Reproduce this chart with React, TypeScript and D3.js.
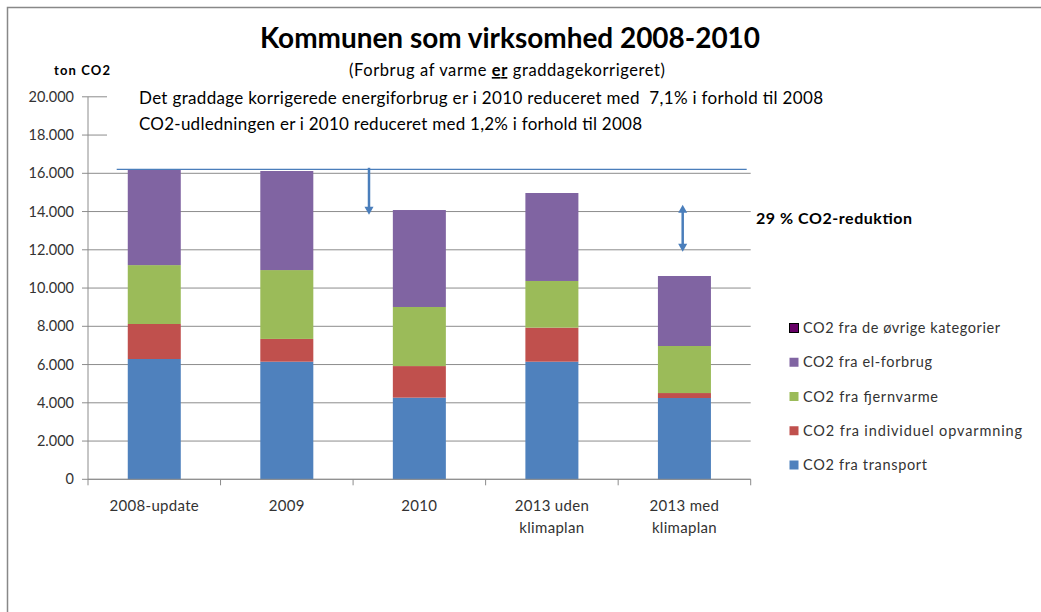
import React from "react";
import * as d3 from "d3";

const categories = ["2008-update", "2009", "2010", "2013 uden klimaplan", "2013 med klimaplan"];
const categoryLines = [["2008-update"], ["2009"], ["2010"], ["2013 uden", "klimaplan"], ["2013 med", "klimaplan"]];
const transport = [6290, 6150, 4270, 6150, 4250];
const individuel = [1830, 1190, 1650, 1780, 260];
const fjernvarme = [3080, 3600, 3090, 2440, 2460];
const elforbrug = [5010, 5180, 5070, 4600, 3660];
const ovrige = [0, 0, 0, 0, 0];
const yTicks = [0, 2000, 4000, 6000, 8000, 10000, 12000, 14000, 16000, 18000, 20000];

const seriesKeys = ["transport", "individuel", "fjernvarme", "elforbrug", "ovrige"];
const seriesNames: Record<string, string> = {
  transport: "CO2 fra transport",
  individuel: "CO2 fra individuel opvarmning",
  fjernvarme: "CO2 fra fjernvarme",
  elforbrug: "CO2 fra el-forbrug",
  ovrige: "CO2 fra de øvrige kategorier",
};
const seriesColors: Record<string, string> = {
  transport: "#4F81BD",
  individuel: "#C0504D",
  fjernvarme: "#9BBB59",
  elforbrug: "#8064A2",
  ovrige: "#660066",
};
const legendWidths: Record<string, number> = {
  ovrige: 197,
  elforbrug: 129,
  fjernvarme: 135,
  individuel: 219,
  transport: 124,
};

const FONT = "Lato, 'Open Sans', sans-serif";
const ARROW = "#4A7EBB";

export default function App() {
  const left = 88, right = 750.7, top = 96.8, bottom = 479.3;
  const x = d3.scaleBand<string>().domain(categories).range([left, right]).paddingInner(0.6).paddingOuter(0.3);
  const xTickScale = d3.scaleLinear().domain([0, categories.length]).range([left, right]);
  const y = d3.scaleLinear().domain([0, 20000]).range([bottom, top]);

  const rows = categories.map((c, i) => ({
    cat: c,
    transport: transport[i],
    individuel: individuel[i],
    fjernvarme: fjernvarme[i],
    elforbrug: elforbrug[i],
    ovrige: ovrige[i],
  }));
  const stacked = d3.stack<any>().keys(seriesKeys)(rows);
  const totals = rows.map((r) => seriesKeys.reduce((s, k) => s + (r as any)[k], 0));

  const fmt = (v: number) => (v === 0 ? "0" : d3.format(",")(v).replace(/,/g, "."));

  const lineY = y(totals[0]);
  const downX = 369;
  const downTip = y(13830);
  const dblX = 682.7;
  const dblTop = y(14350);
  const dblBot = y(11900);

  const legendOrder = ["ovrige", "elforbrug", "fjernvarme", "individuel", "transport"];
  const legendY = d3.scaleLinear().domain([0, 4]).range([328, 465]);

  return (
    <svg width={1041} height={612} style={{ position: "absolute", left: 0, top: 0, background: "#fff" }} fontFamily={FONT}>
      <rect x={0} y={0} width={1041} height={612} fill="#fff" />
      <rect x={7.5} y={7.5} width={1060} height={640} fill="none" stroke="#888" strokeWidth={1.5} />

      {/* gridlines */}
      {yTicks.map((t) => (
        <line key={t} x1={left - 6} x2={right} y1={y(t)} y2={y(t)} stroke="#8c8c8c" strokeWidth={1} />
      ))}

      {/* white text box covering the top gridlines */}
      <rect x={107} y={86} width={660} height={62} fill="#fff" />

      {/* bars */}
      {stacked.map((s) => (
        <g key={s.key} fill={seriesColors[s.key]}>
          {s.map((d, i) => (
            <rect key={i} x={x(categories[i])} y={y(d[1])} width={x.bandwidth()} height={Math.max(0, y(d[0]) - y(d[1]))} />
          ))}
        </g>
      ))}

      {/* axes */}
      <line x1={left} x2={left} y1={top} y2={bottom} stroke="#8c8c8c" strokeWidth={1} />
      <line x1={left} x2={right} y1={bottom} y2={bottom} stroke="#8c8c8c" strokeWidth={1} />
      {d3.range(categories.length + 1).map((i) => (
        <line key={i} x1={xTickScale(i)} x2={xTickScale(i)} y1={bottom} y2={bottom + 6} stroke="#8c8c8c" strokeWidth={1} />
      ))}
      {yTicks.map((t) => (
        <text key={t} x={74} y={y(t) + 5} textAnchor="end" fontSize={14.5} fill="#333">
          {fmt(t)}
        </text>
      ))}
      {categoryLines.map((lines, i) => (
        <text key={i} textAnchor="middle" fontSize={15} fill="#333" letterSpacing={0.3}>
          {lines.map((l, j) => (
            <tspan key={j} x={x(categories[i])! + x.bandwidth() / 2} y={511 + j * 22}>
              {l}
            </tspan>
          ))}
        </text>
      ))}

      {/* titles */}
      <text x={510} y={48} textAnchor="middle" fontSize={28} fontWeight="bold" fill="#000" textLength={500} lengthAdjust="spacingAndGlyphs">
        Kommunen som virksomhed 2008-2010
      </text>
      <text x={349} y={76} fontSize={16.5} fill="#000" textLength={316}>
        (Forbrug af varme{" "}
        <tspan fontWeight="bold" textDecoration="underline">er</tspan> graddagekorrigeret)
      </text>
      <text x={54} y={75} fontSize={13} fontWeight="bold" fill="#000" textLength={56}>
        ton CO2
      </text>

      {/* annotations */}
      <text x={139} y={103.5} fontSize={17} fill="#000" textLength={684} style={{ whiteSpace: "pre" }}>
        {"Det graddage korrigerede energiforbrug er i 2010 reduceret med \u00a07,1% i forhold til 2008"}
      </text>
      <text x={139} y={130} fontSize={17} fill="#000" textLength={503}>
        CO2-udledningen er i 2010 reduceret med 1,2% i forhold til 2008
      </text>
      <text x={756} y={224} fontSize={16} fontWeight="bold" fill="#000" textLength={156}>
        29 % CO2-reduktion
      </text>

      <line x1={116.7} x2={746.7} y1={lineY} y2={lineY} stroke={ARROW} strokeWidth={1.2} />

      <line x1={downX} x2={downX} y1={lineY - 1.5} y2={downTip - 7} stroke={ARROW} strokeWidth={2.5} />
      <polygon points={`${downX - 4.5},${downTip - 8} ${downX + 4.5},${downTip - 8} ${downX},${downTip}`} fill={ARROW} />

      <line x1={dblX} x2={dblX} y1={dblTop + 7} y2={dblBot - 7} stroke={ARROW} strokeWidth={2.5} />
      <polygon points={`${dblX - 4.5},${dblTop + 8} ${dblX + 4.5},${dblTop + 8} ${dblX},${dblTop}`} fill={ARROW} />
      <polygon points={`${dblX - 4.5},${dblBot - 8} ${dblX + 4.5},${dblBot - 8} ${dblX},${dblBot}`} fill={ARROW} />

      {/* legend */}
      {legendOrder.map((k, i) => (
        <g key={k}>
          <rect
            x={789.5}
            y={legendY(i) - 4.5}
            width={9}
            height={9}
            fill={seriesColors[k]}
            stroke={k === "ovrige" ? "#000" : "none"}
            strokeWidth={1}
          />
          <text x={803} y={legendY(i) + 5} fontSize={14.5} fill="#333" textLength={legendWidths[k]}>
            {seriesNames[k]}
          </text>
        </g>
      ))}
    </svg>
  );
}
